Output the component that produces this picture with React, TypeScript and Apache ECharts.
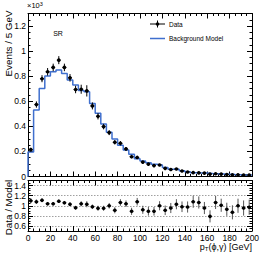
import React, { useEffect, useRef } from "react";
import * as echarts from "echarts";

// bin low edges [GeV], 5 GeV bins
const binLow = [0, 5, 10, 15, 20, 25, 30, 35, 40, 45, 50, 55, 60, 65, 70, 75, 80, 85, 90, 95,
  100, 105, 110, 115, 120, 125, 130, 135, 140, 145, 150, 155, 160, 165, 170, 175, 180, 185, 190, 195];
const binHalfWidth = 2.5;
const xErrHalf = 1.8;

// Events / 5 GeV (x10^3)
const dataVals = [0.214, 0.574, 0.780, 0.835, 0.870, 0.928, 0.870, 0.787, 0.694, 0.696,
  0.683, 0.563, 0.480, 0.398, 0.350, 0.273, 0.265, 0.220, 0.158, 0.152,
  0.115, 0.099, 0.087, 0.092, 0.065, 0.056, 0.060, 0.044, 0.036, 0.031,
  0.029, 0.027, 0.019, 0.022, 0.019, 0.016, 0.013, 0.014, 0.012, 0.011];
const dataErr = [0.015, 0.025, 0.028, 0.030, 0.030, 0.032, 0.030, 0.030, 0.030, 0.036,
  0.045, 0.028, 0.025, 0.022, 0.020, 0.018, 0.018, 0.015, 0.012, 0.012,
  0.010, 0.009, 0.008, 0.008, 0.007, 0.006, 0.006, 0.005, 0.005, 0.004,
  0.004, 0.004, 0.003, 0.003, 0.003, 0.003, 0.002, 0.002, 0.002, 0.002];
const modelVals = [0.195, 0.530, 0.702, 0.802, 0.836, 0.850, 0.822, 0.770, 0.730, 0.685,
  0.675, 0.582, 0.505, 0.418, 0.352, 0.300, 0.250, 0.212, 0.178, 0.142,
  0.124, 0.110, 0.097, 0.092, 0.071, 0.058, 0.058, 0.045, 0.037, 0.029,
  0.027, 0.028, 0.023, 0.021, 0.019, 0.017, 0.015, 0.014, 0.0125, 0.011];
const ratioVals = [1.10, 1.08, 1.11, 1.04, 1.04, 1.09, 1.06, 1.03, 0.96, 1.04,
  1.03, 0.98, 0.95, 0.95, 1.00, 0.91, 1.065, 1.04, 0.89, 1.08,
  0.92, 0.89, 0.89, 1.00, 0.91, 0.955, 1.03, 0.98, 0.975, 1.08,
  1.065, 0.955, 0.79, 1.065, 1.01, 0.93, 0.87, 1.00, 0.955, 0.97];
const ratioErr = [0.05, 0.045, 0.04, 0.035, 0.035, 0.035, 0.035, 0.04, 0.04, 0.05,
  0.06, 0.045, 0.05, 0.05, 0.055, 0.06, 0.065, 0.065, 0.07, 0.075,
  0.08, 0.085, 0.085, 0.09, 0.095, 0.10, 0.10, 0.105, 0.11, 0.12,
  0.12, 0.12, 0.12, 0.13, 0.13, 0.13, 0.14, 0.14, 0.15, 0.15];

const FONT = "Liberation Sans, Arial, Helvetica, sans-serif";

function errRender(markerColor: string, barColor: string) {
  return (params: any, api: any) => {
    const x = api.value(0);
    const y = api.value(1);
    const ey = api.value(2);
    const ex = api.value(3);
    const c = api.coord([x, y]);
    const t = api.coord([x, y + ey]);
    const b = api.coord([x, y - ey]);
    const l = api.coord([x - ex, y]);
    const r = api.coord([x + ex, y]);
    return {
      type: "group",
      children: [
        { type: "line", shape: { x1: c[0], y1: t[1], x2: c[0], y2: b[1] }, style: { stroke: barColor, lineWidth: 1 } },
        { type: "line", shape: { x1: l[0], y1: c[1], x2: r[0], y2: c[1] }, style: { stroke: barColor, lineWidth: 1 } },
        { type: "circle", shape: { cx: c[0], cy: c[1], r: 1.8 }, style: { fill: markerColor } },
      ],
    };
  };
}

const tickCommon = {
  axisTick: { show: true, inside: true, length: 5, lineStyle: { color: "#000", width: 1 } },
  minorTick: { show: true, splitNumber: 4, length: 2.5, lineStyle: { color: "#000", width: 1 } },
  axisLine: { show: true, onZero: false, lineStyle: { color: "#000", width: 1 } },
  splitLine: { show: false },
};

export default function App() {
  const ref = useRef<HTMLDivElement>(null);
  useEffect(() => {
    const chart = echarts.init(ref.current!, null, { renderer: "svg" });
    const centers = binLow.map((x) => x + binHalfWidth);
    const stepData: number[][] = [[binLow[0], 0]];
    binLow.forEach((x, i) => stepData.push([x, modelVals[i]]));
    stepData.push([binLow[binLow.length - 1] + 2 * binHalfWidth, modelVals[modelVals.length - 1]]);
    const dataPts = centers.map((x, i) => [x, dataVals[i], dataErr[i], xErrHalf]);
    const ratioPts = centers.map((x, i) => [x, ratioVals[i], ratioErr[i], xErrHalf]);

    const labelStyle = { color: "#000", fontSize: 8.5, fontFamily: FONT };

    const option: any = {
      animation: false,
      grid: [
        { left: 28, top: 13.5, width: 224, height: 163 },
        { left: 28, top: 180.5, width: 224, height: 50.5 },
      ],
      xAxis: [
        { type: "value", gridIndex: 0, position: "bottom", min: 0, max: 200, interval: 20, axisLabel: { show: false }, ...tickCommon },
        { type: "value", gridIndex: 0, position: "top", min: 0, max: 200, interval: 20, axisLabel: { show: false }, ...tickCommon },
        { type: "value", gridIndex: 1, position: "bottom", min: 0, max: 200, interval: 20, axisLabel: { show: true, margin: 2, ...labelStyle }, ...tickCommon },
        { type: "value", gridIndex: 1, position: "top", min: 0, max: 200, interval: 20, axisLabel: { show: false }, ...tickCommon },
      ],
      yAxis: [
        { type: "value", gridIndex: 0, position: "left", min: 0, max: 1.3, interval: 0.2, axisLabel: { show: true, margin: 2, showMaxLabel: false, ...labelStyle }, ...tickCommon },
        { type: "value", gridIndex: 0, position: "right", min: 0, max: 1.3, interval: 0.2, axisLabel: { show: false }, ...tickCommon },
        {
          type: "value", gridIndex: 1, position: "left", min: 0.5, max: 1.5, splitNumber: 5,
          axisLabel: { show: true, margin: 2, showMinLabel: false, showMaxLabel: false, ...labelStyle },
          ...tickCommon,
          splitLine: { show: true, lineStyle: { color: "#888", width: 0.8, type: [1.5, 1.5] } },
        },
        { type: "value", gridIndex: 1, position: "right", min: 0.5, max: 1.5, splitNumber: 5, axisLabel: { show: false }, ...tickCommon },
      ],
      series: [
        {
          type: "line", xAxisIndex: 0, yAxisIndex: 0, step: "end", data: stepData,
          symbol: "none", lineStyle: { color: "#3f6fce", width: 1.5 }, z: 2,
        },
        {
          type: "custom", xAxisIndex: 0, yAxisIndex: 0, data: dataPts,
          renderItem: errRender("#000", "#000"), z: 3,
          encode: { x: 0, y: 1 },
        },
        {
          type: "custom", xAxisIndex: 2, yAxisIndex: 2, data: ratioPts,
          renderItem: errRender("#000", "#555"), z: 3,
          encode: { x: 0, y: 1 },
        },
      ],
      graphic: [
        // x10^3
        {
          type: "text", x: 27, y: 5,
          style: {
            text: "×10{s|3}", fontSize: 7.5, fontFamily: FONT, fill: "#000", verticalAlign: "middle",
            rich: { s: { fontSize: 5.5, verticalAlign: "top", lineHeight: 6, fontFamily: FONT } },
          },
        },
        // Y title main
        {
          type: "text", x: 8, y: 43.5, rotation: Math.PI / 2,
          style: { text: "Events / 5 GeV", fontSize: 9.8, fontFamily: FONT, fill: "#000", align: "center", verticalAlign: "middle" },
        },
        // Y title ratio
        {
          type: "text", x: 8, y: 207.5, rotation: Math.PI / 2,
          style: { text: "Data / Model", fontSize: 9.8, fontFamily: FONT, fill: "#000", align: "center", verticalAlign: "middle" },
        },
        // X title
        {
          type: "text", x: 252, y: 247,
          style: {
            text: "{a|p}{s|T}{a|(ϕ,γ) [GeV]}", fontFamily: FONT, fill: "#000", align: "right", verticalAlign: "middle",
            rich: {
              a: { fontSize: 9, fontFamily: FONT, lineHeight: 10 },
              s: { fontSize: 6, fontFamily: FONT, lineHeight: 6, verticalAlign: "bottom" },
            },
          },
        },
        // SR
        {
          type: "text", x: 58, y: 33,
          style: { text: "SR", fontSize: 7, fontFamily: FONT, fill: "#000", align: "center", verticalAlign: "middle" },
        },
        // Legend: Data
        { type: "line", shape: { x1: 150, y1: 24, x2: 165, y2: 24 }, style: { stroke: "#000", lineWidth: 1 } },
        { type: "line", shape: { x1: 157.5, y1: 20.5, x2: 157.5, y2: 27.5 }, style: { stroke: "#000", lineWidth: 1 } },
        { type: "circle", shape: { cx: 157.5, cy: 24, r: 1.8 }, style: { fill: "#000" } },
        {
          type: "text", x: 169, y: 24,
          style: { text: "Data", fontSize: 6.5, fontFamily: FONT, fill: "#000", verticalAlign: "middle" },
        },
        // Legend: Background Model
        { type: "line", shape: { x1: 150, y1: 38.5, x2: 165, y2: 38.5 }, style: { stroke: "#3f6fce", lineWidth: 1.5 } },
        {
          type: "text", x: 169, y: 38.5,
          style: { text: "Background Model", fontSize: 6.5, fontFamily: FONT, fill: "#000", verticalAlign: "middle" },
        },
      ],
    };
    chart.setOption(option);
    return () => chart.dispose();
  }, []);
  return <div ref={ref} style={{ position: "absolute", left: 0, top: 0, width: 266, height: 258 }} />;
}
